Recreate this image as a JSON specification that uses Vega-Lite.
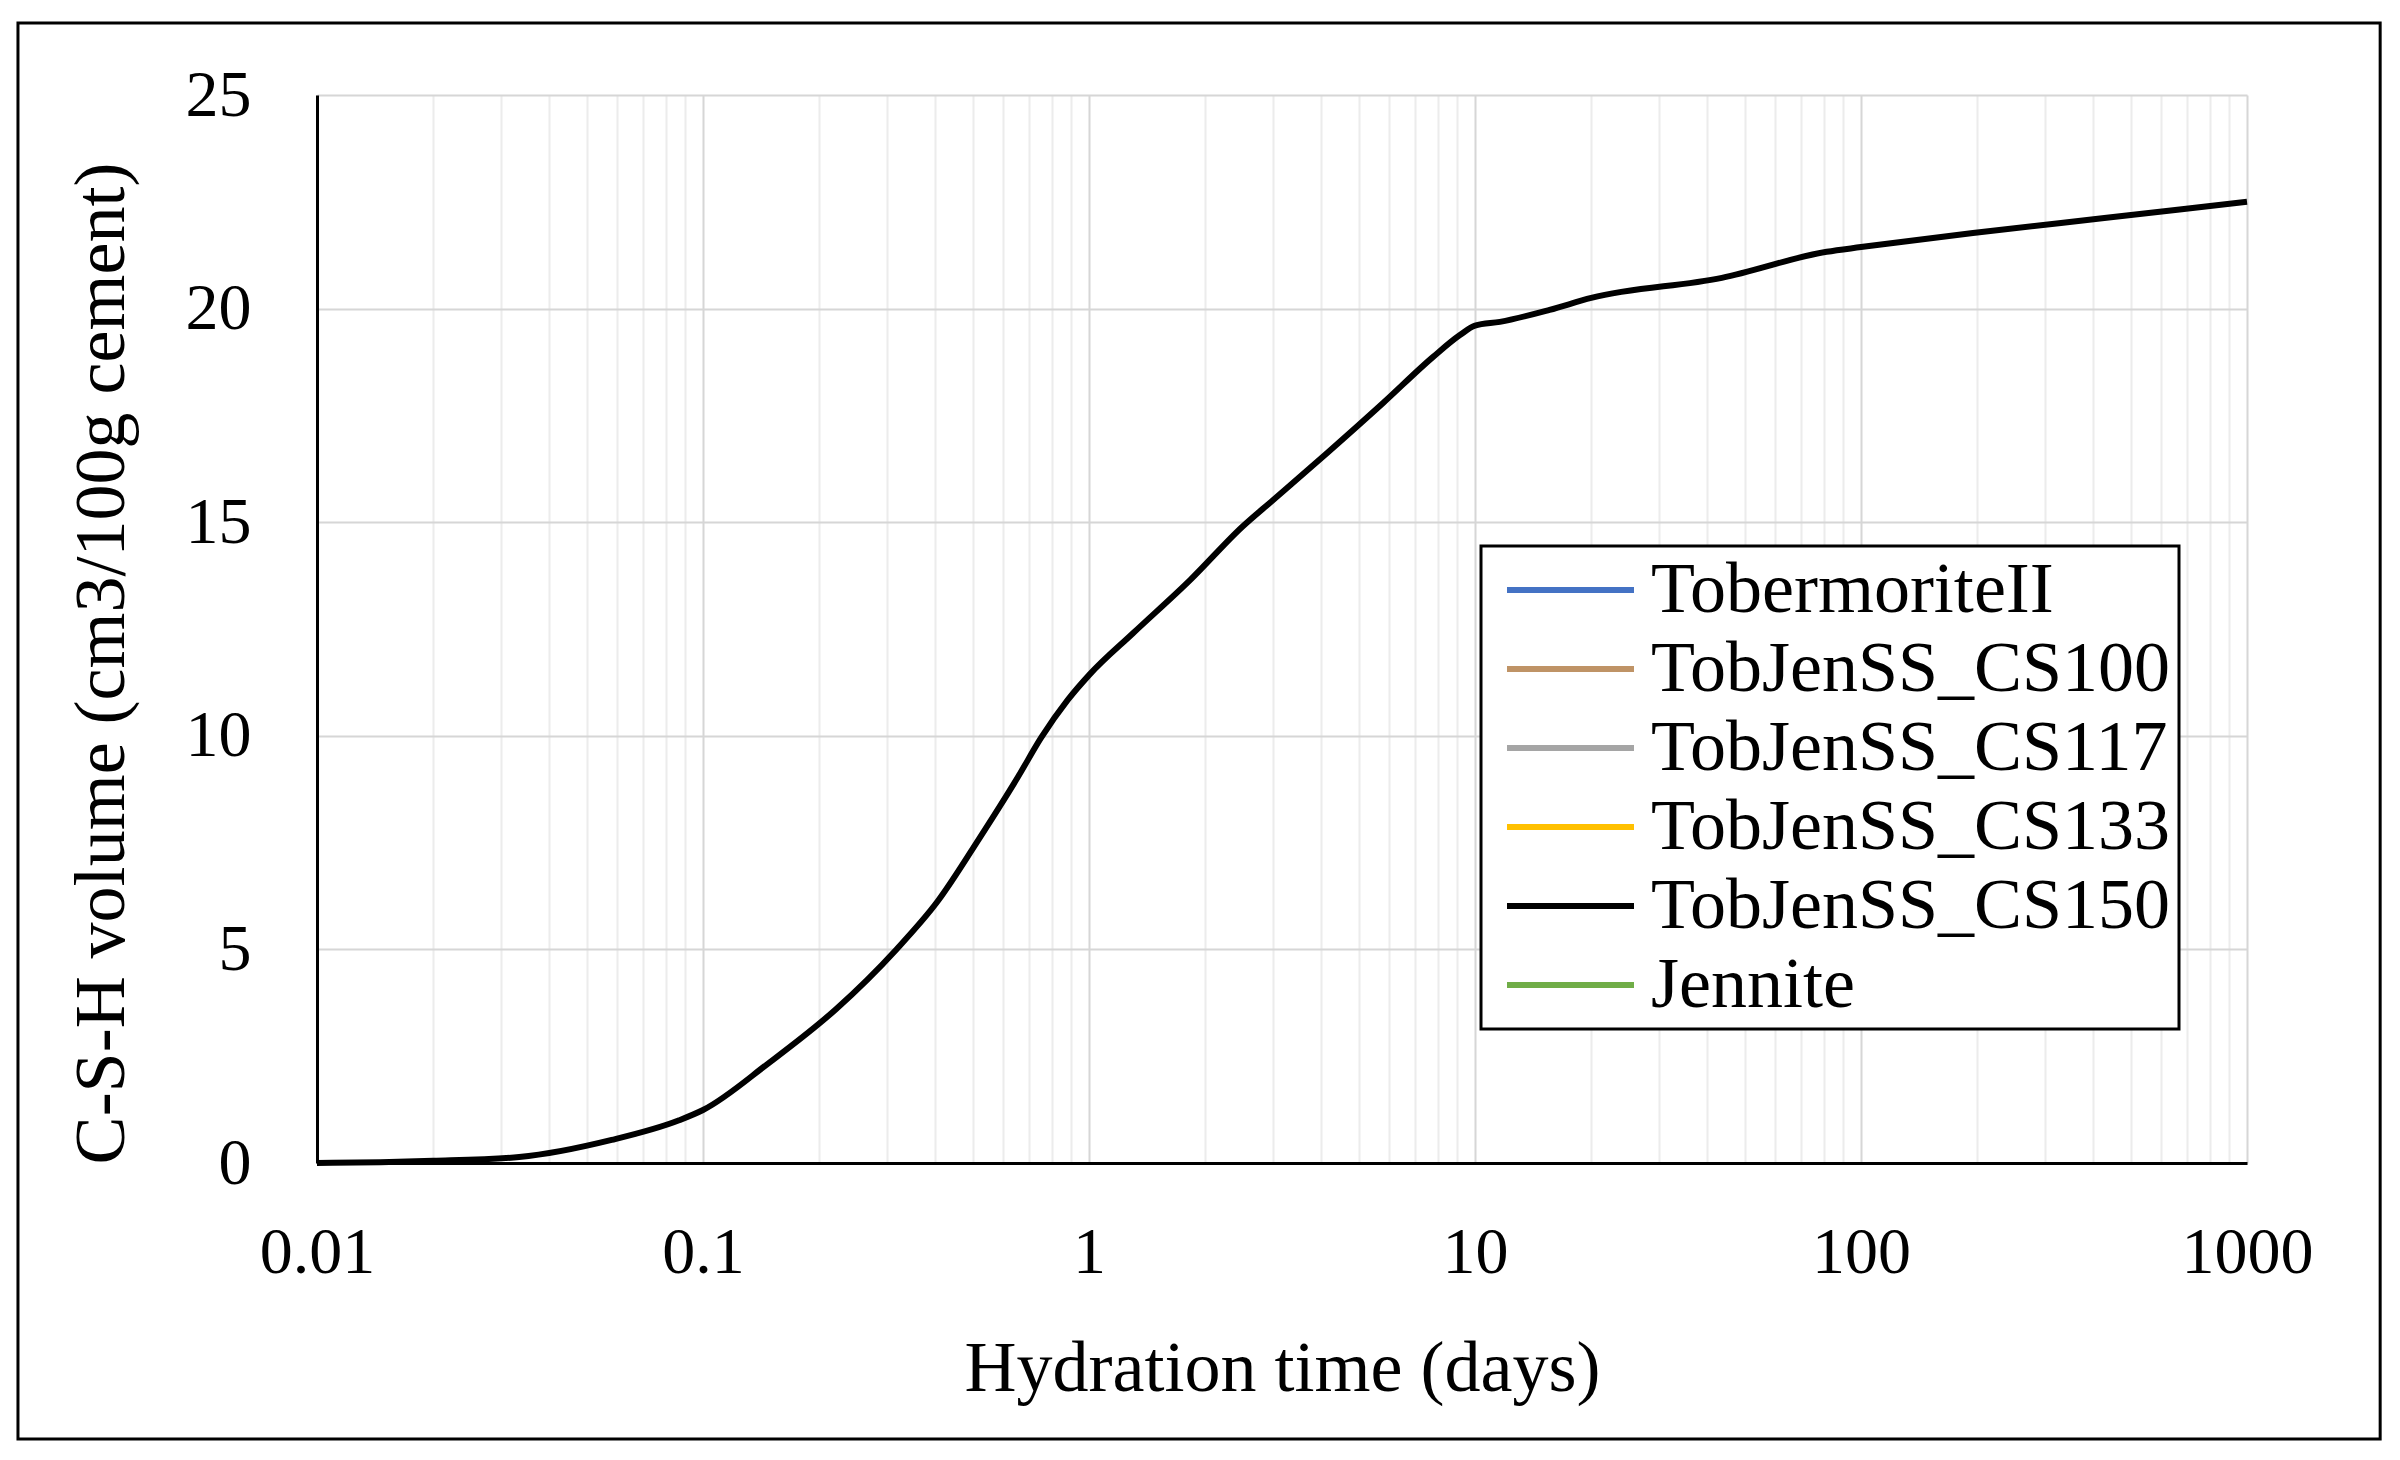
{
  "$schema": "https://vega.github.io/schema/vega-lite/v6.json",
  "width": 1930,
  "height": 1068,
  "autosize": {"type": "none"},
  "padding": {"left": 317, "top": 95, "right": 153, "bottom": 297},
  "background": "white",
  "config": {
    "view": {"stroke": null},
    "font": "Liberation Serif",
    "axis": {"labelFont": "Liberation Serif", "titleFont": "Liberation Serif", "labelColor": "black", "titleColor": "black", "titleFontWeight": "normal"},
    "legend": {"labelFont": "Liberation Serif", "strokeWidth": 3}
  },
  "datasets": {
    "csh": [
      {"series": "TobJenSS_CS150", "time": 0.01, "volume": 0.0},
      {"series": "TobJenSS_CS150", "time": 0.0146, "volume": 0.02},
      {"series": "TobJenSS_CS150", "time": 0.02, "volume": 0.05},
      {"series": "TobJenSS_CS150", "time": 0.0334, "volume": 0.14},
      {"series": "TobJenSS_CS150", "time": 0.058, "volume": 0.54},
      {"series": "TobJenSS_CS150", "time": 0.0867, "volume": 1.0},
      {"series": "TobJenSS_CS150", "time": 0.1, "volume": 1.24},
      {"series": "TobJenSS_CS150", "time": 0.148, "volume": 2.34},
      {"series": "TobJenSS_CS150", "time": 0.221, "volume": 3.6},
      {"series": "TobJenSS_CS150", "time": 0.317, "volume": 5.0},
      {"series": "TobJenSS_CS150", "time": 0.405, "volume": 6.12},
      {"series": "TobJenSS_CS150", "time": 0.52, "volume": 7.6},
      {"series": "TobJenSS_CS150", "time": 0.655, "volume": 9.04},
      {"series": "TobJenSS_CS150", "time": 0.751, "volume": 9.95},
      {"series": "TobJenSS_CS150", "time": 0.881, "volume": 10.84},
      {"series": "TobJenSS_CS150", "time": 1.0, "volume": 11.42},
      {"series": "TobJenSS_CS150", "time": 1.3, "volume": 12.4},
      {"series": "TobJenSS_CS150", "time": 1.83, "volume": 13.65},
      {"series": "TobJenSS_CS150", "time": 2.5, "volume": 14.9},
      {"series": "TobJenSS_CS150", "time": 3.0, "volume": 15.52},
      {"series": "TobJenSS_CS150", "time": 4.14, "volume": 16.62},
      {"series": "TobJenSS_CS150", "time": 5.78, "volume": 17.79},
      {"series": "TobJenSS_CS150", "time": 7.79, "volume": 18.87},
      {"series": "TobJenSS_CS150", "time": 9.14, "volume": 19.38},
      {"series": "TobJenSS_CS150", "time": 10, "volume": 19.6},
      {"series": "TobJenSS_CS150", "time": 11.6, "volume": 19.69},
      {"series": "TobJenSS_CS150", "time": 15.6, "volume": 19.97},
      {"series": "TobJenSS_CS150", "time": 20, "volume": 20.25},
      {"series": "TobJenSS_CS150", "time": 43.6, "volume": 20.72},
      {"series": "TobJenSS_CS150", "time": 81.5, "volume": 21.33},
      {"series": "TobJenSS_CS150", "time": 100, "volume": 21.44},
      {"series": "TobJenSS_CS150", "time": 195, "volume": 21.77},
      {"series": "TobJenSS_CS150", "time": 427, "volume": 22.12},
      {"series": "TobJenSS_CS150", "time": 1000, "volume": 22.5}
    ]
  },
  "layer": [
    {
      "data": {"name": "csh"},
      "mark": {"type": "line", "strokeWidth": 6, "interpolate": "monotone", "clip": false},
      "encoding": {
        "x": {
          "field": "time", "type": "quantitative",
          "scale": {"type": "log", "domain": [0.01, 1000], "nice": false},
          "axis": {
            "title": "Hydration  time  (days)",
            "titleFontSize": 72,
            "titlePadding": 48,
            "values": [0.01,0.02,0.03,0.04,0.05,0.06,0.07,0.08,0.09,0.1,0.2,0.3,0.4,0.5,0.6,0.7,0.8,0.9,1,2,3,4,5,6,7,8,9,10,20,30,40,50,60,70,80,90,100,200,300,400,500,600,700,800,900,1000],
            "labelExpr": "(abs(log(datum.value)/LN10 - round(log(datum.value)/LN10)) < 0.000001) ? format(datum.value, '~g') : ''",
            "labelFontSize": 66,
            "labelPadding": 57,
            "labelFlush": false,
            "labelOverlap": false,
            "ticks": false,
            "tickSize": 0,
            "domainColor": "black",
            "domainWidth": 3,
            "grid": true,
            "gridColor": {"condition": {"test": "abs(log(datum.value)/LN10 - round(log(datum.value)/LN10)) < 0.000001", "value": "#D6D6D6"}, "value": "#ECECEC"},
            "gridWidth": 2
          }
        },
        "y": {
          "field": "volume", "type": "quantitative",
          "scale": {"domain": [0, 25], "nice": false},
          "axis": {
            "title": "C-S-H volume (cm3/100g cement)",
            "titleFontSize": 72,
            "titlePadding": 47,
            "titleY": 568,
            "values": [0, 5, 10, 15, 20, 25],
            "labelFontSize": 66,
            "labelPadding": 66,
            "ticks": false,
            "tickSize": 0,
            "domainColor": "black",
            "domainWidth": 3,
            "grid": true,
            "gridColor": "#D6D6D6",
            "gridWidth": 2
          }
        },
        "color": {
          "field": "series", "type": "nominal",
          "scale": {
            "domain": ["TobermoriteII", "TobJenSS_CS100", "TobJenSS_CS117", "TobJenSS_CS133", "TobJenSS_CS150", "Jennite"],
            "range": ["#4472C4", "#BF9366", "#A5A5A5", "#FFC000", "#000000", "#70AD47"]
          },
          "legend": {
            "title": null,
            "orient": "none",
            "legendX": 1164,
            "legendY": 451,
            "symbolType": "M-0.72,0H4.36",
            "symbolSize": 2500,
            "symbolStrokeWidth": 6,
            "labelFontSize": 72,
            "labelColor": "black",
            "labelOffset": 90,
            "labelLimit": 1000,
            "rowPadding": 7,
            "padding": 8,
            "strokeColor": "black",
            "fillColor": "white"
          }
        }
      }
    },
    {
      "data": {"values": [{}]},
      "mark": {"type": "rect", "filled": false, "stroke": "black", "strokeWidth": 3, "clip": false},
      "encoding": {
        "x": {"datum": 0.00168, "type": "quantitative"},
        "x2": {"datum": 2213},
        "y": {"datum": 26.685, "type": "quantitative"},
        "y2": {"datum": -6.46}
      }
    }
  ]
}
